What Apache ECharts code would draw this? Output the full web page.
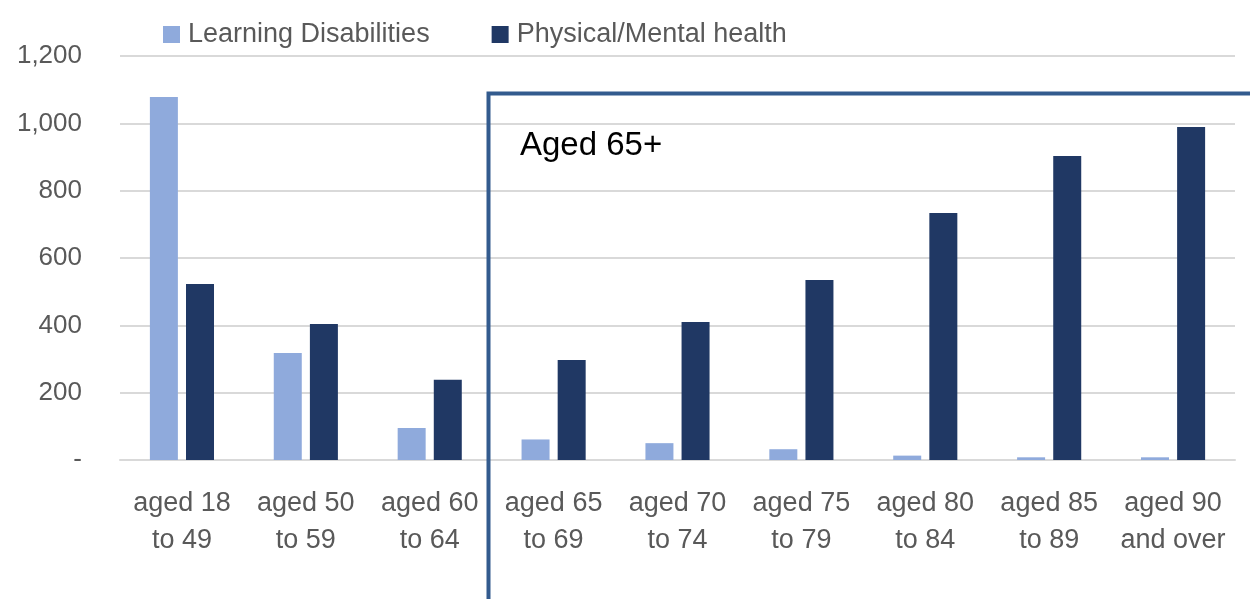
<!DOCTYPE html>
<html><head><meta charset="utf-8">
<script src="https://cdn.jsdelivr.net/npm/echarts@6/dist/echarts.min.js"></script>
<style>html,body{margin:0;padding:0;background:#fff}#c{width:1250px;height:599px}</style>
</head><body><div id="c"></div>
<script>
const categories = ['aged 18\nto 49','aged 50\nto 59','aged 60\nto 64','aged 65\nto 69','aged 70\nto 74','aged 75\nto 79','aged 80\nto 84','aged 85\nto 89','aged 90\nand over'];
const learningDisabilities = [1078, 318, 95, 61, 50, 32, 13, 8, 8];
const physicalMental = [523, 404, 238, 297, 410, 535, 734, 903, 989];
const yTicks = {min: 0, max: 1200, interval: 200};

const FONT = 'Liberation Sans';
const chart = echarts.init(document.getElementById('c'));
chart.setOption({
  animation: false,
  textStyle: {fontFamily: FONT},
  legend: {
    left: 158, top: 16, itemWidth: 17, itemHeight: 17, itemGap: 62,
    icon: 'rect',
    textStyle: {fontSize: 27, color: '#595959', fontFamily: FONT, padding: [0, 0, 0, 3]},
    data: ['Learning Disabilities', 'Physical/Mental health']
  },
  grid: {left: 120, right: 15, top: 56, bottom: 139},
  xAxis: {
    type: 'category', data: categories,
    axisLine: {show: true, lineStyle: {color: '#d9d9d9', width: 2}},
    axisTick: {show: false},
    axisLabel: {fontSize: 27, color: '#595959', lineHeight: 37, margin: 25, fontFamily: FONT, interval: 0}
  },
  yAxis: {
    type: 'value', min: yTicks.min, max: yTicks.max, interval: yTicks.interval,
    splitLine: {lineStyle: {color: '#d9d9d9', width: 2}},
    axisLabel: {
      fontSize: 26, color: '#595959', margin: 38, fontFamily: FONT,
      formatter: v => v === 0 ? '-' : v.toLocaleString('en-US')
    }
  },
  series: [
    {name: 'Learning Disabilities', type: 'bar', data: learningDisabilities, barWidth: 28, barGap: '29%',
     itemStyle: {color: '#8faadc'}},
    {name: 'Physical/Mental health', type: 'bar', data: physicalMental, barWidth: 28,
     itemStyle: {color: '#203864'}}
  ],
  graphic: [
    {type: 'rect', left: 486, top: 91, shape: {width: 800, height: 600},
     style: {fill: 'none', stroke: '#335b8e', lineWidth: 4}, z: 100},
    {type: 'text', left: 520, top: 129, style: {text: 'Aged 65+', fontSize: 33, fill: '#000', fontFamily: FONT}, z: 100}
  ]
});
</script></body></html>
